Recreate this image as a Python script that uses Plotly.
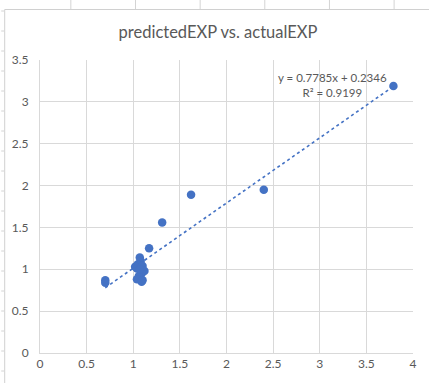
import numpy as np
import plotly.graph_objects as go

# actualEXP (x) vs predictedEXP (y)
actual_exp = [3.79, 2.40, 1.62, 1.31, 1.17, 0.70, 0.70,
              1.07, 1.08, 1.05, 1.02, 1.04, 1.10, 1.12, 1.09,
              1.06, 1.04, 1.09, 1.10, 1.07]
predicted_exp = [3.19, 1.95, 1.89, 1.56, 1.25, 0.87, 0.84,
                 1.14, 1.10, 1.06, 1.03, 1.01, 1.04, 0.98, 0.95,
                 0.92, 0.88, 0.85, 0.87, 1.00]

# linear trendline as reported on the chart
slope = 0.7785
intercept = 0.2346
r_squared = 0.9199

x_ticks = [0, 0.5, 1, 1.5, 2, 2.5, 3, 3.5, 4]
y_ticks = [0, 0.5, 1, 1.5, 2, 2.5, 3, 3.5]

W, H = 429, 383
ML, MR, MT, MB = 39, 15, 60, 30
PW, PH = W - ML - MR, H - MT - MB

FONT = "Lato"
TXT = "#595959"
GRID = "#D9D9D9"
BLUE = "#4472C4"


def px(xp):
    return (xp - ML) / PW


def py(yp):
    return (H - MB - yp) / PH


fig = go.Figure()

fig.add_trace(go.Scatter(
    x=actual_exp, y=predicted_exp, mode="markers",
    marker=dict(color=BLUE, size=8.5, line=dict(width=0)),
    showlegend=False, hoverinfo="skip"))

tx = np.array([min(actual_exp), max(actual_exp)])
fig.add_trace(go.Scatter(
    x=tx, y=slope * tx + intercept, mode="lines",
    line=dict(color=BLUE, width=1.6, dash="dot"),
    showlegend=False, hoverinfo="skip"))

shapes = []
# worksheet cell lines around the chart object
for cx in [70, 135, 200, 265, 330, 395]:
    shapes.append(dict(type="line", xref="paper", yref="paper",
                       x0=px(cx), x1=px(cx), y0=py(0), y1=py(9),
                       line=dict(color="#D4D4D4", width=1), layer="below"))
for ry in range(11, 383, 20):
    shapes.append(dict(type="line", xref="paper", yref="paper",
                       x0=px(0), x1=px(3), y0=py(ry), y1=py(ry),
                       line=dict(color="#D4D4D4", width=1), layer="below"))
# chart area border
shapes.append(dict(type="rect", xref="paper", yref="paper",
                   x0=px(3.5), x1=px(W + 5), y0=py(H + 5), y1=py(9.5),
                   line=dict(color="#D0D0D0", width=1), fillcolor="white",
                   layer="below"))

fig.update_layout(
    width=W, height=H,
    margin=dict(l=ML, r=MR, t=MT, b=MB),
    paper_bgcolor="white", plot_bgcolor="white",
    font=dict(family=FONT, color=TXT, size=12),
    title=dict(text="predictedEXP vs. actualEXP",
               xref="container", x=218 / W, xanchor="center",
               yref="container", y=1 - 32 / H, yanchor="middle",
               font=dict(family=FONT, size=16.5, color=TXT)),
    xaxis=dict(range=[0, 4], tickvals=x_ticks, ticktext=[f"{v:g}" for v in x_ticks],
               showgrid=True, gridcolor=GRID, gridwidth=1,
               zeroline=False, showline=True, linecolor=GRID, linewidth=1,
               ticks="", tickfont=dict(family=FONT, size=12, color=TXT)),
    yaxis=dict(range=[0, 3.5], tickvals=y_ticks, ticktext=[f"{v:g}" for v in y_ticks],
               showgrid=True, gridcolor=GRID, gridwidth=1,
               zeroline=False, showline=True, linecolor=GRID, linewidth=1,
               ticks="", ticklabelstandoff=8,
               tickfont=dict(family=FONT, size=12, color=TXT)),
    shapes=shapes,
    annotations=[dict(
        text=f"y = {slope}x + {intercept}<br>R² = {r_squared}",
        xref="paper", yref="paper", x=px(333), y=py(85),
        xanchor="center", yanchor="middle", align="center", showarrow=False,
        font=dict(family=FONT, size=11.5, color=TXT))],
)

fig.write_html("out.html")
